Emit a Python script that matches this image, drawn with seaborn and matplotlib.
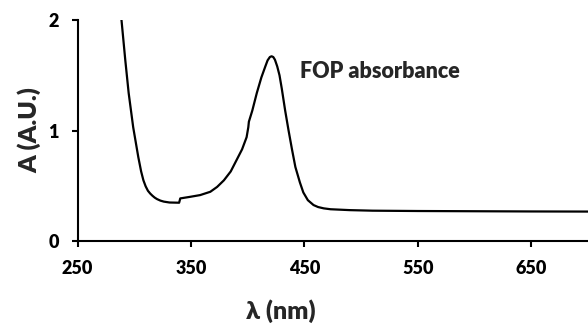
import matplotlib
matplotlib.use("Agg")
import matplotlib.pyplot as plt
import seaborn as sns
import pandas as pd

# Spectrum
wavelength = [288.5, 292, 295, 299, 303.5, 306, 308, 310, 312, 314, 316, 318,
              320, 323, 326, 331, 339.5,
              340.5, 349, 358, 367, 373, 379, 385, 390, 395, 399, 400.5,
              401, 404, 408, 412, 415.5, 417.5, 419.5, 421, 422.5, 424, 426, 428, 430,
              433, 436, 439, 442, 446, 449, 453, 458, 462, 467, 473, 490,
              510, 550, 600, 650, 700]
absorbance = [2.02, 1.64, 1.34, 1.03, 0.76, 0.63, 0.55, 0.495, 0.455, 0.43, 0.41, 0.393,
              0.38, 0.366, 0.357, 0.349, 0.347,
              0.386, 0.400, 0.416, 0.446, 0.49, 0.55, 0.63, 0.73, 0.83, 0.94, 1.03,
              1.08, 1.18, 1.34, 1.48, 1.58, 1.635, 1.665, 1.672, 1.665, 1.64, 1.58, 1.50, 1.38,
              1.18, 1.00, 0.83, 0.67, 0.53, 0.44, 0.37, 0.326, 0.308, 0.296, 0.288, 0.28,
              0.275, 0.272, 0.27, 0.268, 0.267]
x_ticks = [250, 350, 450, 550, 650]
y_ticks = [0, 1, 2]

sns.set_style("ticks")
plt.rcParams["font.family"] = ["Lato", "DejaVu Sans"]

df = pd.DataFrame({"wavelength": wavelength, "absorbance": absorbance})

fig = plt.figure(figsize=(5.88, 3.28), dpi=100)
ax = fig.add_axes([0.132, 0.265, 0.868, 0.674])
sns.lineplot(data=df, x="wavelength", y="absorbance", sort=False, estimator=None,
             color="black", linewidth=1.6, ax=ax)

ax.set_xlim(250, 700)
ax.set_ylim(0, 2)
ax.set_xticks(x_ticks)
ax.set_yticks(y_ticks)
sns.despine(ax=ax)
for side in ["left", "bottom"]:
    ax.spines[side].set_linewidth(1.5)
    ax.spines[side].set_color("black")
ax.tick_params(axis="both", direction="out", length=4.5, width=1.5, colors="black",
               labelsize=13, pad=9)
for lbl in ax.get_xticklabels() + ax.get_yticklabels():
    lbl.set_fontweight("heavy")

ax.set_xlabel("λ (nm)", fontsize=18, fontweight="heavy", va="center")
ax.set_ylabel("A (A.U.)", fontsize=18, fontweight="heavy", va="center", ha="center")
ax.xaxis.set_label_coords(0.399, -0.317)
ax.yaxis.set_label_coords(-0.095, 0.5)

ax.text(446, 1.53, "FOP absorbance", fontsize=15.5, fontweight="heavy", va="center")

fig.savefig("out.png", dpi=100)
